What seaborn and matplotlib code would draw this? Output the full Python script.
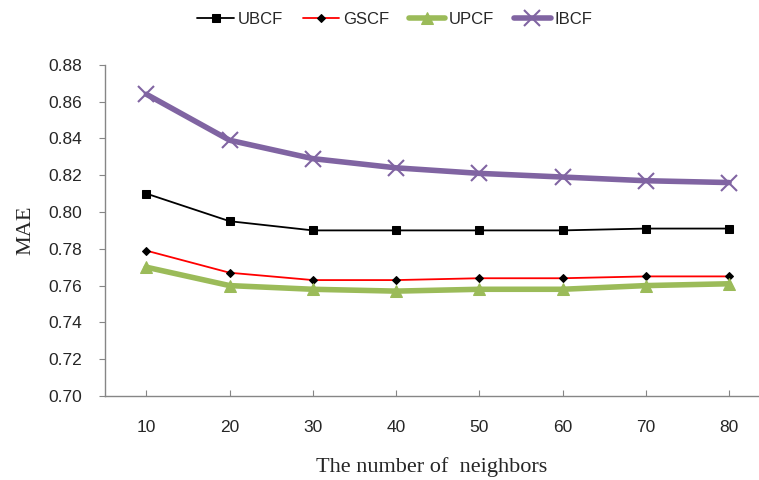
import numpy as np
import pandas as pd
import matplotlib.pyplot as plt
import seaborn as sns

neighbors = [10, 20, 30, 40, 50, 60, 70, 80]
ubcf = [0.810, 0.795, 0.790, 0.790, 0.790, 0.790, 0.791, 0.791]
gscf = [0.779, 0.767, 0.763, 0.763, 0.764, 0.764, 0.765, 0.765]
upcf = [0.770, 0.760, 0.758, 0.757, 0.758, 0.758, 0.760, 0.761]
ibcf = [0.864, 0.839, 0.829, 0.824, 0.821, 0.819, 0.817, 0.816]

sns.set_style('white')
plt.rcParams['font.family'] = ['Liberation Sans Narrow', 'Liberation Sans', 'DejaVu Sans']

fig = plt.figure(figsize=(7.59, 4.8), dpi=100)
ax = fig.add_axes([0.138, 0.175, 0.862, 0.69])

styles = [
    ('UBCF', ubcf, dict(color='black', marker='s', markersize=6, linewidth=1.3,
                        markerfacecolor='black', markeredgecolor='black')),
    ('GSCF', gscf, dict(color='#ff0000', marker='D', markersize=4, linewidth=1.3,
                        markerfacecolor='black', markeredgecolor='black')),
    ('UPCF', upcf, dict(color='#9bbb59', marker='^', markersize=9, linewidth=4,
                        markerfacecolor='#9bbb59', markeredgecolor='#9bbb59')),
    ('IBCF', ibcf, dict(color='#8064a2', marker='x', markersize=12, linewidth=4,
                        markeredgewidth=1.5, markeredgecolor='#8064a2')),
]

for name, vals, kw in styles:
    df = pd.DataFrame({'k': neighbors, 'mae': vals})
    sns.lineplot(data=df, x='k', y='mae', ax=ax, label=name, **kw)

ax.set_xlim(5.0, 83.6)
ax.set_ylim(0.70, 0.88)
ax.set_xticks(neighbors)
ax.set_yticks(np.arange(0.70, 0.881, 0.02))
ax.set_yticklabels([f'{v:.2f}' for v in np.arange(0.70, 0.881, 0.02)])

for s in ['top', 'right']:
    ax.spines[s].set_visible(False)
for s in ['left', 'bottom']:
    ax.spines[s].set_color('#868686')
    ax.spines[s].set_linewidth(1)

ax.tick_params(axis='y', direction='out', length=4, color='#868686', labelsize=12.5, pad=12)
ax.tick_params(axis='x', direction='in', length=4, color='#868686', labelsize=12.5, pad=17)
ax.tick_params(left=True, bottom=True)

ax.set_xlabel('The number of  neighbors', family='Liberation Serif', fontsize=16, labelpad=16)
ax.set_ylabel('MAE', family='Liberation Serif', fontsize=16, labelpad=10)

handles, labels = ax.get_legend_handles_labels()
ax.legend_.remove()
fig.legend(handles, labels, loc='center', bbox_to_anchor=(0.52, 0.96), ncol=4,
           frameon=False, fontsize=12, handlelength=2.2, columnspacing=1.2, handletextpad=0.2)

fig.savefig('out.png', dpi=100)
